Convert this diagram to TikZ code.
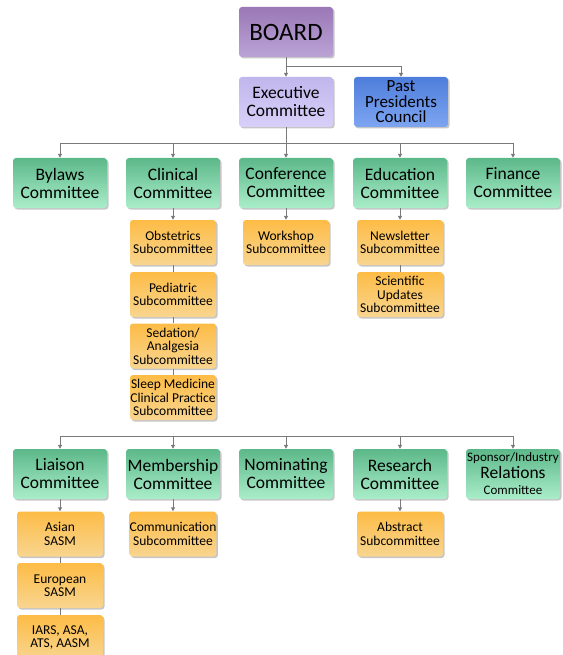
\documentclass[tikz,border=0pt]{standalone}
\usepackage{fontspec}
\setmainfont{Carlito}
\usetikzlibrary{arrows.meta, positioning, shadows}
\definecolor{boardtop}{HTML}{9A78B6}
\definecolor{boardbot}{HTML}{BBA3D6}
\definecolor{exectop}{HTML}{C0B6EC}
\definecolor{execbot}{HTML}{D8D0F9}
\definecolor{pasttop}{HTML}{4E7EDB}
\definecolor{pastbot}{HTML}{7EA5F1}
\definecolor{comtop}{HTML}{5CB889}
\definecolor{combot}{HTML}{AAEDCA}
\definecolor{subtop}{HTML}{FDBC46}
\definecolor{subbot}{HTML}{F8D590}
\definecolor{linegray}{HTML}{7A7A7A}

\begin{document}
\begin{tikzpicture}[
    x=1pt, y=-1pt,
    box/.style={rectangle, rounded corners=3pt, align=center, inner xsep=0pt, inner ysep=1pt, text=black,
        drop shadow={shadow xshift=1.5pt, shadow yshift=-1.5pt, opacity=0.45}},
    topbox/.style={box, minimum width=94pt, minimum height=50pt, top color=boardtop, bottom color=boardbot, font=\fontsize{25}{26}\selectfont},
    execbox/.style={box, minimum width=94pt, minimum height=50pt, top color=exectop, bottom color=execbot, font=\fontsize{17.5}{18}\selectfont},
    councilbox/.style={box, minimum width=94pt, minimum height=50pt, top color=pasttop, bottom color=pastbot, font=\fontsize{17}{15.5}\selectfont},
    committee/.style={box, minimum width=94pt, minimum height=50pt, top color=comtop, bottom color=combot, font=\fontsize{17.5}{18}\selectfont},
    subcom/.style={box, minimum width=86pt, minimum height=45pt, top color=subtop, bottom color=subbot, font=\fontsize{13.5}{13.5}\selectfont},
    link/.style={draw=linegray, line width=1pt},
    arrow/.style={link, -{Triangle[length=4pt, width=4pt]}}
]
\useasboundingbox (0,0) rectangle (562,655);

% Board and executive level
\node[topbox] (board) at (286,32) {BOARD};
\node[execbox] (exec) at (286,102) {Executive\\Committee};
\node[councilbox] (past) at (401,102) {Past\\Presidents\\Council};

\draw[arrow] (board) -- (exec);
\draw[arrow] (board.south) -- ++(0,9) -| (past.north);

% First row of committees
\node[committee] (bylaws) at (60,183) {Bylaws\\Committee};
\node[committee] (clinical) at (173,183) {Clinical\\Committee};
\node[committee] (conference) at (286,183) {Conference\\Committee};
\node[committee] (education) at (400,183) {Education\\Committee};
\node[committee] (finance) at (513,183) {Finance\\Committee};

\coordinate (bus1) at (286,144);
\draw[link] (exec.south) -- (bus1);
\foreach \c in {bylaws, clinical, conference, education, finance}
    \draw[arrow] (bus1) -| (\c.north);

% Subcommittees of the first row
\node[subcom] (obstetrics) at (173,242.5) {Obstetrics\\Subcommittee};
\node[subcom] (pediatric) at (173,294.5) {Pediatric\\Subcommittee};
\node[subcom] (sedation) at (173,346) {Sedation/\\Analgesia\\Subcommittee};
\node[subcom] (sleep) at (173,397.5) {Sleep Medicine\\Clinical Practice\\Subcommittee};
\node[subcom] (workshop) at (286,242.5) {Workshop\\Subcommittee};
\node[subcom] (newsletter) at (400,242.5) {Newsletter\\Subcommittee};
\node[subcom] (scientific) at (400,294.5) {Scientific\\Updates\\Subcommittee};

\draw[arrow] (clinical) -- (obstetrics);
\draw[link] (obstetrics) -- (pediatric);
\draw[link] (pediatric) -- (sedation);
\draw[link] (sedation) -- (sleep);
\draw[arrow] (conference) -- (workshop);
\draw[arrow] (education) -- (newsletter);
\draw[link] (newsletter) -- (scientific);

% Second row of committees
\node[committee] (liaison) at (60,474) {Liaison\\Committee};
\node[committee] (membership) at (173,474) {Membership\\Committee};
\node[committee] (nominating) at (286,474) {Nominating\\Committee};
\node[committee] (research) at (400,474) {Research\\Committee};
\node[committee] (sponsor) at (513,474) {{\fontsize{13}{13}\selectfont Sponsor/Industry}\\[-1pt]Relations\\[-2pt]{\fontsize{13}{13}\selectfont Committee}};

\coordinate (bus2) at (286,436);
\draw[link] (liaison.north |- bus2) -- (sponsor.north |- bus2);
\foreach \c in {liaison, membership, nominating, research, sponsor}
    \draw[arrow] (\c.north |- bus2) -- (\c.north);

% Subcommittees of the second row
\node[subcom] (asian) at (60,534) {Asian\\SASM};
\node[subcom] (european) at (60,585.5) {European\\SASM};
\node[subcom] (iars) at (60,637.5) {IARS, ASA,\\ATS, AASM};
\node[subcom] (communication) at (173,534) {Communication\\Subcommittee};
\node[subcom] (abstract) at (400,534) {Abstract\\Subcommittee};

\draw[arrow] (liaison) -- (asian);
\draw[link] (asian) -- (european);
\draw[link] (european) -- (iars);
\draw[arrow] (membership) -- (communication);
\draw[arrow] (research) -- (abstract);

\end{tikzpicture}
\end{document}
